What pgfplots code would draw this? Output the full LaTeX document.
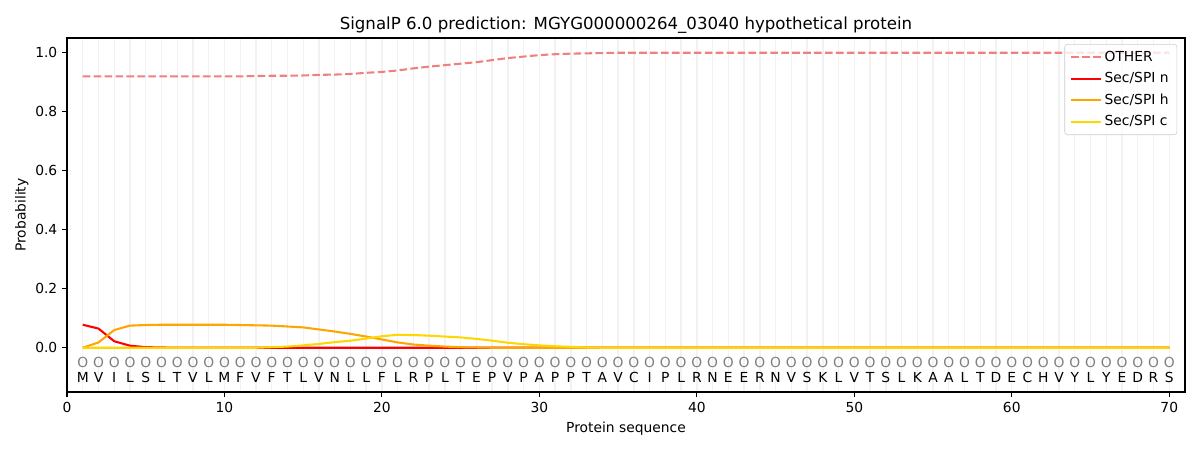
\documentclass[border=0pt]{standalone}
\usepackage{pgfplots}
\pgfplotsset{compat=1.18}
\usepackage{pgfplotstable}
\usepackage{fontspec}
\setmainfont{DejaVu Sans}
\usetikzlibrary{calc}
\definecolor{other}{HTML}{F08080}
\definecolor{secn}{HTML}{FF0000}
\definecolor{sech}{HTML}{FFA500}
\definecolor{secc}{HTML}{FFD700}
\definecolor{gridc}{HTML}{F2F2F2}

\pgfplotstableread{
x y
1 0.920
2 0.920
3 0.920
4 0.920
5 0.920
6 0.920
7 0.920
8 0.920
9 0.920
10 0.920
11 0.920
12 0.921
13 0.922
14 0.922
15 0.923
16 0.925
17 0.926
18 0.928
19 0.932
20 0.935
21 0.940
22 0.947
23 0.953
24 0.958
25 0.963
26 0.968
27 0.975
28 0.982
29 0.987
30 0.992
31 0.995
32 0.997
33 0.998
34 0.999
35 1.000
40 1.000
50 1.000
60 1.000
70 1.000
}\other

\pgfplotstableread{
x y
1 0.078
2 0.065
3 0.022
4 0.007
5 0.002
6 0.001
7 0.0
20 0.0
40 0.0
70 0.0
}\secn

\pgfplotstableread{
x y
1 0.000
2 0.018
3 0.060
4 0.075
5 0.077
6 0.078
7 0.078
8 0.078
9 0.078
10 0.078
11 0.077
12 0.076
13 0.075
14 0.072
15 0.069
16 0.062
17 0.055
18 0.047
19 0.038
20 0.028
21 0.018
22 0.011
23 0.007
24 0.004
25 0.002
26 0.001
27 0.000
40 0.000
70 0.000
}\sech

\pgfplotstableread{
x y
1 0.000
12 0.000
13 0.002
14 0.004
15 0.008
16 0.013
17 0.019
18 0.024
19 0.031
20 0.039
21 0.044
22 0.043
23 0.041
24 0.038
25 0.035
26 0.030
27 0.024
28 0.017
29 0.012
30 0.008
31 0.005
32 0.003
33 0.001
34 0.000
50 0.000
70 0.000
}\secc

\pgfplotstableread{
x l
1 M
2 V
3 I
4 L
5 S
6 L
7 T
8 V
9 L
10 M
11 F
12 V
13 F
14 T
15 L
16 V
17 N
18 L
19 L
20 F
21 L
22 R
23 P
24 L
25 T
26 E
27 P
28 V
29 P
30 A
31 P
32 P
33 T
34 A
35 V
36 C
37 I
38 P
39 L
40 R
41 N
42 E
43 E
44 R
45 N
46 V
47 S
48 K
49 L
50 V
51 T
52 S
53 L
54 K
55 A
56 A
57 L
58 T
59 D
60 E
61 C
62 H
63 V
64 Y
65 L
66 Y
67 E
68 D
69 R
70 S
}\seq

\begin{document}
\begin{tikzpicture}
\begin{axis}[
  name=ax,
  scale only axis,
  width=11.18in, height=3.54in,
  xmin=0, xmax=71, ymin=-0.15, ymax=1.05,
  xtick={0,10,...,70},
  ytick={0,0.2,...,1.0},
  minor xtick={1,...,70},
  minor x tick num=0,
  xminorgrids=true,
  minor grid style={gridc, line width=1pt},
  minor tick length=0pt,
  tick align=outside,
  major tick length=3.5pt,
  tick style={black, line width=0.8pt},
  axis line style={line width=0.8pt},
  xtick pos=bottom, ytick pos=left,
  yticklabel style={/pgf/number format/fixed, /pgf/number format/fixed zerofill, /pgf/number format/precision=1},
  /pgf/number format/assume math mode=true,
  tick label style={font=\fontsize{10}{12}\selectfont},
  label style={font=\fontsize{10}{12}\selectfont},
  xlabel={Protein sequence},
  ylabel={Probability},
  xlabel style={yshift=0pt},
  ylabel style={yshift=-2pt},
  title={SignalP 6.0 prediction: MGYG000000264\_03040 hypothetical protein},
  title style={font=\fontsize{12}{14}\selectfont, yshift=-6pt},
  legend style={at={(0.993,0.983)}, anchor=north east, font=\fontsize{10}{12}\selectfont,
    draw=black!20, rounded corners=2pt, fill=white, fill opacity=0.8, text opacity=1,
    row sep=2.5pt, inner xsep=4pt, inner ysep=3pt},
  legend cell align=left,
  legend image code/.code={\draw[#1] (0cm,0cm) -- (0.75cm,0cm);},
]
\addplot[other, line width=1.5pt, dash pattern=on 5.5pt off 2.4pt] table {\other};
\addlegendentry{OTHER}
\addplot[secn, line width=1.5pt] table {\secn};
\addlegendentry{Sec/SPI n}
\addplot[sech, line width=1.5pt] table {\sech};
\addlegendentry{Sec/SPI h}
\addplot[secc, line width=1.5pt] table {\secc};
\addlegendentry{Sec/SPI c}
\addplot[only marks, mark=none, point meta=explicit symbolic, nodes near coords={O},
  nodes near coords style={anchor=center, text=black!50, font=\fontsize{10}{12}\selectfont, inner sep=0pt}]
  table[x=x, y expr=-0.05, meta=l] {\seq};
\addplot[only marks, mark=none, point meta=explicit symbolic, nodes near coords,
  nodes near coords style={anchor=center, text=black, font=\fontsize{10}{12}\selectfont, inner sep=0pt}]
  table[x=x, y expr=-0.10, meta=l] {\seq};
\end{axis}
\pgfresetboundingbox
\path[use as bounding box] ($(ax.south west)+(-0.67in,-0.58in)$) rectangle ++(12in,4.5in);
\end{tikzpicture}
\end{document}
